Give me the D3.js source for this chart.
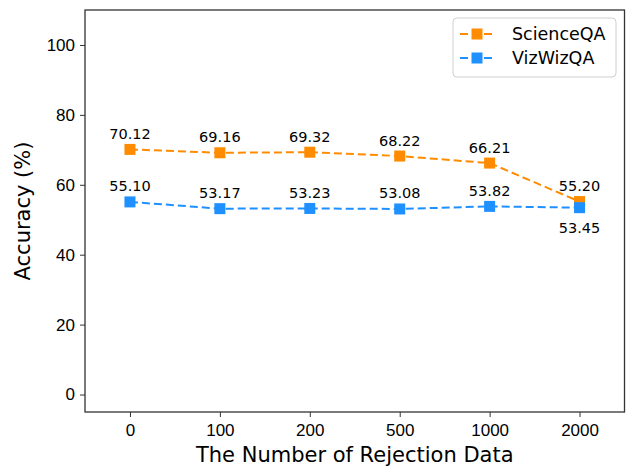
<!DOCTYPE html>
<html>
<head>
<meta charset="utf-8">
<script src="https://cdn.jsdelivr.net/npm/d3@7"></script>
<style>
  body { margin: 0; background: #fff; }
  svg { font-family: "DejaVu Sans", sans-serif; display: block; }
</style>
</head>
<body>
<svg id="chart"></svg>
<script>
const categories = ['0', '100', '200', '500', '1000', '2000'];
const scienceQA = [70.12, 69.16, 69.32, 68.22, 66.21, 55.20];
const vizWizQA = [55.10, 53.17, 53.23, 53.08, 53.82, 53.45];
const yTicks = [0, 20, 40, 60, 80, 100];

const series = [
  { name: 'ScienceQA', values: scienceQA, color: '#ff8c00' },
  { name: 'VizWizQA', values: vizWizQA, color: '#1e90ff' }
];

const width = 626;
const height = 471;
const margin = { top: 10, right: 1.5, bottom: 59, left: 85 };

const svg = d3.select('#chart').attr('width', width).attr('height', height);

const x = d3.scalePoint()
  .domain(categories)
  .range([margin.left, width - margin.right])
  .padding(0.5);

const y = d3.scaleLinear()
  .domain([-5, 110])
  .range([height - margin.bottom, margin.top]);

// axes
const xAxis = svg.append('g')
  .attr('transform', `translate(0,${height - margin.bottom})`)
  .call(d3.axisBottom(x).tickSize(5).tickPadding(7));

const yAxis = svg.append('g')
  .attr('transform', `translate(${margin.left},0)`)
  .call(d3.axisLeft(y).tickValues(yTicks).tickSize(5).tickPadding(5));

[xAxis, yAxis].forEach(g => {
  g.select('.domain').remove();
  g.selectAll('line').attr('stroke', '#333').attr('stroke-width', 1);
  g.selectAll('text').style('font-size', '17px').attr('fill', '#000');
});

// frame
svg.append('rect')
  .attr('x', margin.left)
  .attr('y', margin.top)
  .attr('width', width - margin.left - margin.right)
  .attr('height', height - margin.top - margin.bottom)
  .attr('fill', 'none')
  .attr('stroke', '#333')
  .attr('stroke-width', 1.3);

// lines + markers
const line = d3.line()
  .x((d, i) => x(categories[i]))
  .y(d => y(d));

series.forEach(s => {
  svg.append('path')
    .datum(s.values)
    .attr('d', line)
    .attr('fill', 'none')
    .attr('stroke', s.color)
    .attr('stroke-width', 2)
    .attr('stroke-dasharray', '8,4');

  svg.append('g')
    .selectAll('rect')
    .data(s.values)
    .join('rect')
    .attr('x', (d, i) => x(categories[i]) - 5.5)
    .attr('y', d => y(d) - 5.5)
    .attr('width', 11)
    .attr('height', 11)
    .attr('fill', s.color);
});

// value labels
series.forEach((s, si) => {
  svg.append('g')
    .selectAll('text')
    .data(s.values)
    .join('text')
    .attr('x', (d, i) => x(categories[i]))
    .attr('y', (d, i) => {
      const below = si === 1 && i === categories.length - 1;
      return below ? y(d) + 25 : y(d) - 10.5;
    })
    .attr('text-anchor', 'middle')
    .style('font-size', '14.5px')
    .text(d => d.toFixed(2));
});

// axis titles
svg.append('text')
  .attr('x', (margin.left + width - margin.right) / 2)
  .attr('y', 462)
  .attr('text-anchor', 'middle')
  .style('font-size', '21px')
  .text('The Number of Rejection Data');

svg.append('text')
  .attr('transform', `translate(30,${(margin.top + height - margin.bottom) / 2}) rotate(-90)`)
  .attr('text-anchor', 'middle')
  .style('font-size', '21px')
  .text('Accuracy (%)');

// legend
const legend = svg.append('g').attr('transform', 'translate(453,18)');
legend.append('rect')
  .attr('width', 163)
  .attr('height', 59)
  .attr('rx', 4)
  .attr('fill', '#fff')
  .attr('fill-opacity', 0.8)
  .attr('stroke', '#d0d0d0')
  .attr('stroke-width', 1);

series.forEach((s, i) => {
  const row = legend.append('g').attr('transform', `translate(0,${16 + i * 24})`);
  row.append('line')
    .attr('x1', 7).attr('x2', 40)
    .attr('stroke', s.color)
    .attr('stroke-width', 2)
    .attr('stroke-dasharray', '8,4');
  row.append('rect')
    .attr('x', 24 - 5.5).attr('y', -5.5)
    .attr('width', 11).attr('height', 11)
    .attr('fill', s.color);
  row.append('text')
    .attr('x', 59)
    .attr('y', 6)
    .style('font-size', '17.5px')
    .text(s.name);
});
</script>
</body>
</html>
